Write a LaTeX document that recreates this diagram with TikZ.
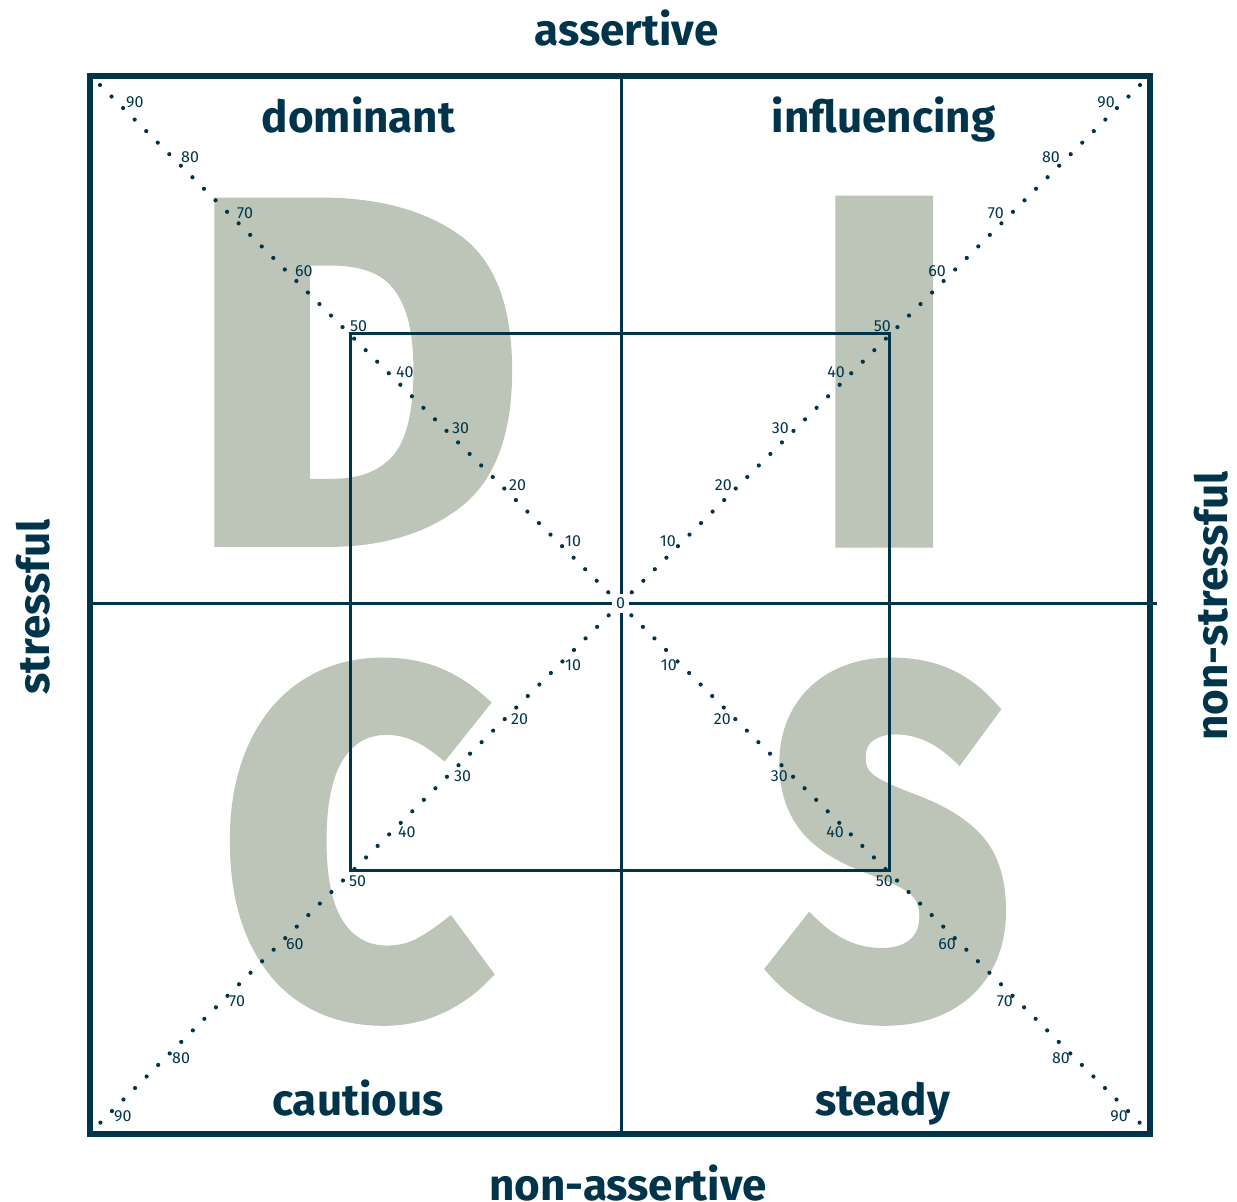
\documentclass[tikz,border=0pt]{standalone}
\usepackage{fontspec}
\setmainfont{Fira Sans}
\newfontfamily\letterfont[BoldFeatures={FakeBold=4}]{Fira Sans}
\newfontfamily\letterfontlight[BoldFeatures={FakeBold=2}]{Fira Sans}
\definecolor{navy}{RGB}{0,52,74}
\definecolor{sage}{RGB}{188,197,183}
\begin{document}
\begin{tikzpicture}[x=1pt,y=-1pt,
  bigletter/.style={anchor=base,inner sep=0pt,text=sage,
    font=\letterfont\bfseries\fontsize{480}{480}\selectfont},
  bigletterlight/.style={anchor=base,inner sep=0pt,text=sage,
    font=\letterfontlight\bfseries\fontsize{490}{490}\selectfont},
  axislabel/.style={anchor=base,inner sep=0pt,text=navy,
    font=\bfseries\fontsize{44}{44}\selectfont},
  scalelabel/.style={inner sep=0pt,text=navy,
    font=\fontsize{16}{16}\selectfont},
  frame/.style={draw=navy,line width=6pt},
  guide/.style={draw=navy,line width=3pt},
  dotline/.style={draw=navy,line width=4.2pt,line cap=round,
    dash pattern=on 0pt off 16.32pt}]
\useasboundingbox (0,0) rectangle (1237,1202);

% large quadrant letters
\node[bigletterlight,xscale=1.06] (letterD) at (355,542) {D};
\node[bigletter] (letterI) at (884,538) {I};
\node[bigletter,xscale=0.95] (letterC) at (355,1008) {C};
\node[bigletter,xscale=0.86] (letterS) at (890,1008) {S};

% inner square and axis cross
\draw[guide] (350.5,333.5) rectangle (889.5,870.5);
\coordinate (hleft) at (90,603.5);
\coordinate (hright) at (1157,603.5);
\coordinate (vtop) at (621.5,76);
\coordinate (vbottom) at (621.5,1134);
\draw[guide] (hleft) -- (hright);
\draw[guide] (vtop) -- (vbottom);

% outer frame
\draw[frame] (90,76) rectangle (1150,1134);

% dotted diagonals
\coordinate (tl) at (100,85);
\coordinate (br) at (1140,1123);
\coordinate (tr) at (1140,85);
\coordinate (bl) at (100,1123);
\draw[dotline] (tl) -- (br);
\draw[dotline] (tr) -- (bl);

% scale values along the diagonals
\foreach \v/\t/\b in {10/541/665,20/485/719,30/428/776,40/372/832,50/326/881,
                      60/271/944,70/213/1001,80/157/1058,90/102/1116}{
  \node[scalelabel,anchor=west] (d\v) at ({\t+24},\t) {\v};
  \node[scalelabel,anchor=east] (i\v) at ({1217-\t},\t) {\v};
  \node[scalelabel,anchor=west] (c\v) at ({1230-\b},\b) {\v};
  \node[scalelabel,anchor=east] (s\v) at ({\b+12},\b) {\v};
}
\node[scalelabel,fill=white,inner sep=4pt] (zero) at (620.5,603.5) {0};

% quadrant names
\node[axislabel] (dominant) at (358.5,132) {dominant};
\node[axislabel] (influencing) at (883.5,132) {influencing};
\node[axislabel] (cautious) at (358,1115) {cautious};
\node[axislabel] (steady) at (882.5,1115) {steady};

% axis names
\node[axislabel] (assertive) at (626.5,45) {assertive};
\node[axislabel] (nonassertive) at (628,1200) {non-assertive};
\node[axislabel,rotate=90] (stressful) at (49,607) {stressful};
\node[axislabel,rotate=90] (nonstressful) at (1227,606) {non-stressful};
\end{tikzpicture}
\end{document}
